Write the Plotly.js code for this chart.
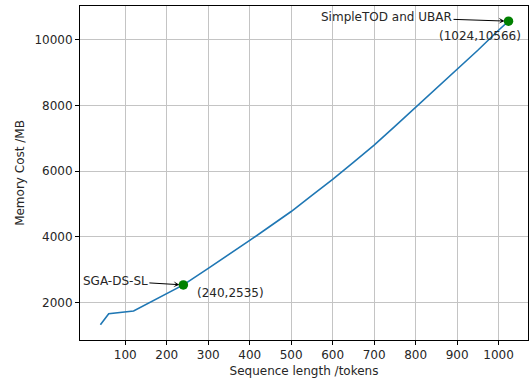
<!DOCTYPE html>
<html>
<head>
<meta charset="utf-8">
<script src="https://cdn.plot.ly/plotly-3.0.1.min.js"></script>
<style>html,body{margin:0;padding:0;background:#fff;}#chart{width:529px;height:378px;}</style>
</head>
<body>
<div id="chart"></div>
<script>
const seqLength = [40, 60, 120, 240, 300, 350, 400, 450, 500, 550, 600, 650, 700, 750, 800, 850, 900, 950, 1000, 1024];
const memoryCost = [1320, 1660, 1740, 2535, 3040, 3460, 3890, 4330, 4770, 5260, 5750, 6270, 6790, 7360, 7940, 8500, 9080, 9680, 10290, 10566];
const highlightX = [240, 1024];
const highlightY = [2535, 10566];
const highlightNames = ['SGA-DS-SL', 'SimpleTOD and UBAR'];
const xTicks = [100, 200, 300, 400, 500, 600, 700, 800, 900, 1000];
const yTicks = [2000, 4000, 6000, 8000, 10000];

const font = {family: 'DejaVu Sans', size: 12, color: '#262626'};

const traces = [
  {x: seqLength, y: memoryCost, type: 'scatter', mode: 'lines',
   line: {color: '#1f77b4', width: 1.6}, hoverinfo: 'skip'},
  {x: highlightX, y: highlightY, type: 'scatter', mode: 'markers',
   marker: {color: 'green', size: 9.5}, hoverinfo: 'skip'}
];

const annotations = [
  {x: highlightX[0], y: highlightY[0], xref: 'x', yref: 'y', text: highlightNames[0],
   showarrow: true, ax: -68, ay: -4, arrowhead: 3, arrowsize: 1, arrowwidth: 1,
   arrowcolor: '#000', standoff: 4, font: font},
  {x: highlightX[1], y: highlightY[1], xref: 'x', yref: 'y', text: highlightNames[1],
   showarrow: true, ax: -122, ay: -4, arrowhead: 3, arrowsize: 1, arrowwidth: 1,
   arrowcolor: '#000', standoff: 4, font: font},
  {x: highlightX[0], y: highlightY[0], xref: 'x', yref: 'y',
   text: '(' + highlightX[0] + ',' + highlightY[0] + ')',
   showarrow: false, xshift: 47, yshift: -8, font: font},
  {x: highlightX[1], y: highlightY[1], xref: 'x', yref: 'y',
   text: '(' + highlightX[1] + ',' + highlightY[1] + ')',
   showarrow: false, xshift: -29, yshift: -15, font: font}
];

const layout = {
  width: 529, height: 378,
  margin: {l: 80, r: 1, t: 6, b: 38},
  paper_bgcolor: '#fff', plot_bgcolor: '#fff',
  showlegend: false,
  font: font,
  xaxis: {
    range: [-9.2, 1071], tickvals: xTicks, ticktext: xTicks.map(String),
    showgrid: true, gridcolor: '#c4c4c4', gridwidth: 1, zeroline: false,
    showline: true, mirror: true, linecolor: '#000', linewidth: 1,
    ticks: 'outside', ticklen: 4, tickcolor: '#000',
    title: {text: 'Sequence length /tokens', font: font, standoff: 5}
  },
  yaxis: {
    range: [858, 11028], tickvals: yTicks, ticktext: yTicks.map(String),
    showgrid: true, gridcolor: '#c4c4c4', gridwidth: 1, zeroline: false,
    showline: true, mirror: true, linecolor: '#000', linewidth: 1,
    ticks: 'outside', ticklen: 4, tickcolor: '#000',
    title: {text: 'Memory Cost /MB', font: font, standoff: 7}
  },
  annotations: annotations
};

Plotly.newPlot('chart', traces, layout, {displayModeBar: false, staticPlot: true});
</script>
</body>
</html>
